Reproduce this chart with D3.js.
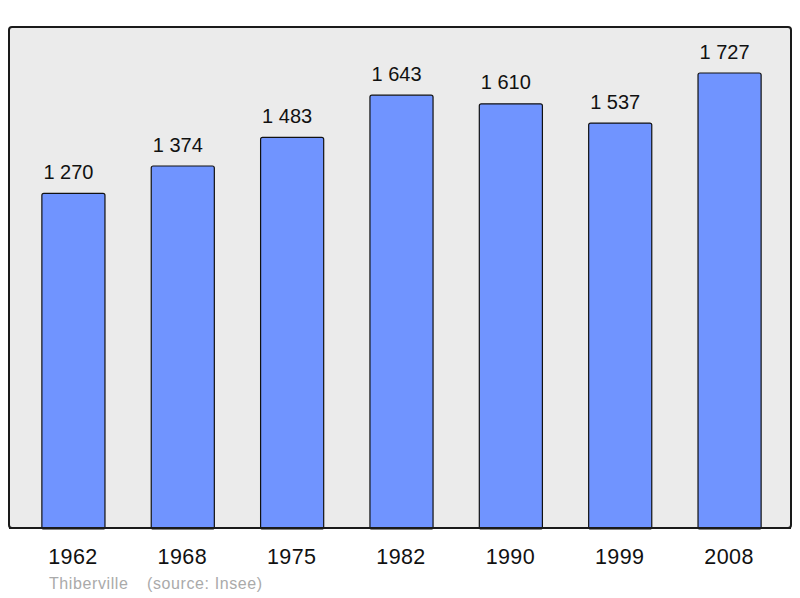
<!DOCTYPE html>
<html><head><meta charset="utf-8">
<script src="https://cdn.jsdelivr.net/npm/d3@7"></script>
<style>body{margin:0;background:#fff}svg{display:block}</style>
</head><body>
<script>
const years = ["1962","1968","1975","1982","1990","1999","2008"];
const population = [1270,1374,1483,1643,1610,1537,1727];
const valueLabels = ["1 270","1 374","1 483","1 643","1 610","1 537","1 727"];
const town = "Thiberville";
const source = "(source: Insee)";

const W=800,H=598;
const FONT="Liberation Sans, Arial, sans-serif";
const svg=d3.select("body").append("svg").attr("width",W).attr("height",H);
svg.append("rect").attr("x",9).attr("y",27).attr("width",782).attr("height",501)
  .attr("rx",3).attr("fill","#ebebeb").attr("stroke","#1a1a1a").attr("stroke-width",2);

const x=d3.scaleBand().domain(years).range([18.8,784.2]).paddingInner(0.423).paddingOuter(0.211);
const y=d3.scaleLinear().domain([0,1727]).range([528,73]);

const g=svg.append("g");
g.selectAll("rect.bar").data(population).join("rect").attr("class","bar")
  .attr("x",(d,i)=>x(years[i])).attr("width",x.bandwidth())
  .attr("y",d=>y(d)).attr("height",d=>y(0)-y(d)+1)
  .attr("rx",2).attr("fill","#7094ff").attr("stroke","#111").attr("stroke-width",1.2);

g.selectAll("text.val").data(population).join("text").attr("class","val")
  .attr("x",(d,i)=>x(years[i])+x.bandwidth()/2-5).attr("y",d=>y(d)-14.5)
  .attr("text-anchor","middle").attr("font-family",FONT)
  .attr("font-size",20).attr("fill","#111").text((d,i)=>valueLabels[i]);

svg.append("line").attr("x1",9).attr("x2",791).attr("y1",528).attr("y2",528).attr("stroke","#1a1a1a").attr("stroke-width",2);

const axis=d3.axisBottom(x).tickSize(0).tickPadding(0);
const ax=svg.append("g").attr("transform","translate(0,528)").call(axis);
ax.select(".domain").remove();
ax.selectAll("text").attr("font-family",FONT).attr("font-size",21.5).attr("letter-spacing",0.4)
  .attr("fill","#111").attr("dy",null).attr("y",36).attr("x",-0.5);

svg.append("text").attr("x",49).attr("y",589).attr("font-family",FONT).attr("letter-spacing",0.6)
  .attr("font-size",16).attr("fill","#aaaaaa").text(town);
svg.append("text").attr("x",147).attr("y",589).attr("font-family",FONT).attr("letter-spacing",0.6)
  .attr("font-size",16).attr("fill","#aaaaaa").text(source);
</script>
</body></html>
